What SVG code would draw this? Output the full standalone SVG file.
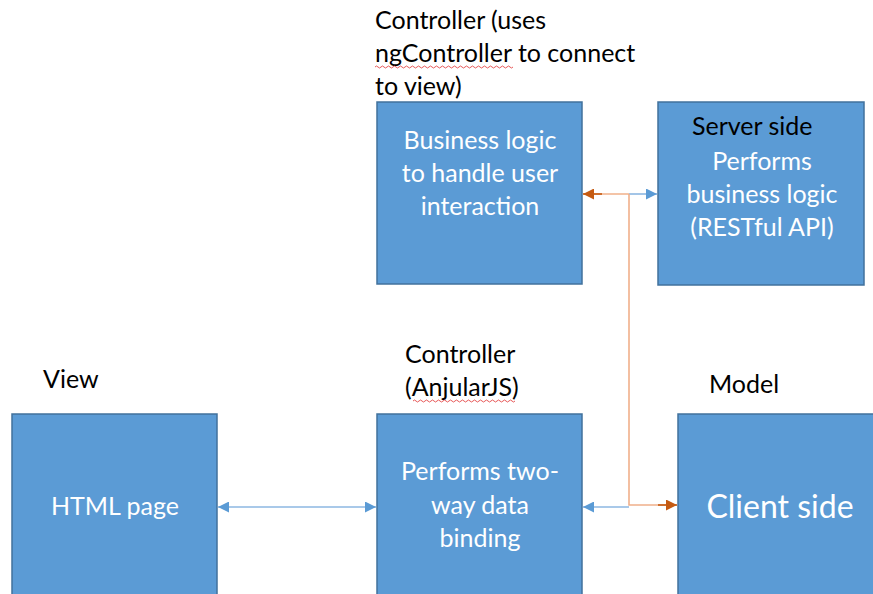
<svg xmlns="http://www.w3.org/2000/svg" width="873" height="594" viewBox="0 0 873 594">
<style>
.box{fill:#5b9bd5;stroke:#41719c;stroke-width:1.5}
.lbl{font-family:Lato,"Open Sans","Liberation Sans",sans-serif;font-size:25px;fill:#000}
.in{font-family:Lato,"Open Sans","Liberation Sans",sans-serif;font-size:25px;fill:#fff;text-anchor:middle}
.blue{stroke:#8db7e2;stroke-width:1.6;fill:none}
.orange{stroke:#f0b08a;stroke-width:1.6;fill:none}
.orange2{stroke:#c55a11;stroke-width:1.6;fill:none}
.sq{stroke:#e03030;stroke-width:0.8;fill:none}
</style>
<defs>
<marker id="ab" markerWidth="11" markerHeight="11" refX="11" refY="5.5" orient="auto-start-reverse" markerUnits="userSpaceOnUse"><path d="M0,0 L11,5.5 L0,11 Z" fill="#5b9bd5"/></marker>
<marker id="ao" markerWidth="11" markerHeight="11" refX="11" refY="5.5" orient="auto-start-reverse" markerUnits="userSpaceOnUse"><path d="M0,0 L11,5.5 L0,11 Z" fill="#c55a11"/></marker>
</defs>
<rect width="873" height="594" fill="#fff"/>
<g id="labels">
<text class="lbl" x="375" y="29">Controller (uses</text>
<text class="lbl" x="375" y="62">ngController to connect</text>
<text class="lbl" x="375" y="95">to view)</text>
<path class="sq" d="M375,67 q1.5,-2 3,0 t3,0 t3,0 t3,0 t3,0 t3,0 t3,0 t3,0 t3,0 t3,0 t3,0 t3,0 t3,0 t3,0 t3,0 t3,0 t3,0 t3,0 t3,0 t3,0 t3,0 t3,0 t3,0 t3,0 t3,0 t3,0 t3,0 t3,0 t3,0 t3,0 t3,0 t3,0 t3,0 t3,0 t3,0 t3,0 t3,0 t3,0 t3,0 t3,0 t3,0 t3,0 t3,0 t3,0 t3,0 t3,0"/>
<text class="lbl" x="405" y="363">Controller</text>
<text class="lbl" x="405" y="396">(AnjularJS)</text>
<path class="sq" d="M413,401 q1.5,-2 3,0 t3,0 t3,0 t3,0 t3,0 t3,0 t3,0 t3,0 t3,0 t3,0 t3,0 t3,0 t3,0 t3,0 t3,0 t3,0 t3,0 t3,0 t3,0 t3,0 t3,0 t3,0 t3,0 t3,0 t3,0 t3,0 t3,0 t3,0 t3,0 t3,0 t3,0 t3,0 t3,0 t3,0"/>
<text class="lbl" x="43" y="388">View</text>
<text class="lbl" x="709" y="393">Model</text>
</g>
<g id="node-html">
<rect class="box" x="12" y="414" width="205" height="185"/>
<text class="in" x="115" y="515">HTML page</text>
</g>
<g id="node-binding">
<rect class="box" x="377" y="414" width="205" height="185"/>
<text class="in" x="480" y="480">Performs two-</text>
<text class="in" x="480" y="514">way data</text>
<text class="in" x="480" y="547">binding</text>
</g>
<g id="node-client">
<rect class="box" x="678" y="414" width="200" height="185"/>
<text class="in" x="780" y="518" style="font-size:32px">Client side</text>
</g>
<g id="node-business">
<rect class="box" x="377" y="102" width="205" height="182"/>
<text class="in" x="480" y="149">Business logic</text>
<text class="in" x="480" y="182">to handle user</text>
<text class="in" x="480" y="215">interaction</text>
</g>
<g id="node-server">
<rect class="box" x="658" y="102" width="206" height="183"/>
<text class="lbl" x="692" y="135">Server side</text>
<text class="in" x="762" y="170">Performs</text>
<text class="in" x="762" y="203">business logic</text>
<text class="in" x="762" y="236">(RESTful API)</text>
</g>
<g id="connectors">
<line class="blue" x1="218" y1="507" x2="376" y2="507" marker-start="url(#ab)" marker-end="url(#ab)"/>
<line class="blue" x1="629" y1="507" x2="583" y2="507" marker-end="url(#ab)"/>
<line class="blue" x1="629" y1="194" x2="657" y2="194" marker-end="url(#ab)"/>
<path class="orange" d="M629,194 V505 H666"/>
<line class="orange" x1="629" y1="194" x2="592" y2="194"/>
<line class="orange2" x1="602" y1="194" x2="583" y2="194" marker-end="url(#ao)"/>
<line class="orange2" x1="658" y1="505" x2="677" y2="505" marker-end="url(#ao)"/>
</g>
</svg>
